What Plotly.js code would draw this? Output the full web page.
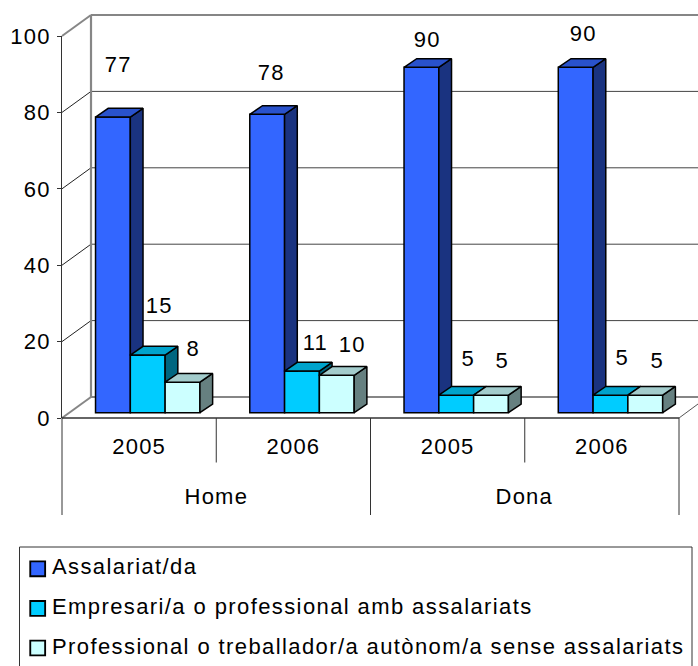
<!DOCTYPE html>
<html>
<head>
<meta charset="utf-8">
<script src="https://cdn.plot.ly/plotly-3.0.1.min.js"></script>
<style>
html,body{margin:0;padding:0;background:#fff;overflow:hidden}
#chart{width:698px;height:666px}
#chart svg text{letter-spacing:1.2px}
#chart .legendtext{transform:translateX(-6px);letter-spacing:1.4px}
#chart .legendpoints path{transform:translate(19.7px,3px) scale(1.24) !important}
#chart .legend .scrollbox{clip-path:none !important}
</style>
</head>
<body>
<div id="chart"></div>
<script>
// ---- data ----
var groups = ['Home','Home','Dona','Dona'];
var years = ['2005','2006','2005','2006'];
var seriesNames = ['Assalariat/da','Empresari/a o professional amb assalariats','Professional o treballador/a autònom/a sense assalariats'];
var assalariat = [77.4,78.1,90.4,90.4];
var empresari = [15.1,10.9,4.6,4.6];
var autonom = [8,9.8,4.6,4.6];
var yTicks = [0,20,40,60,80,100];

// ---- styling / layout ----
var frontColors = ['#3366FF','#00CCFF','#CCFFFF'];
var topColors = ['#2952CC','#00A3CC','#A3CCCC'];
var sideColors = ['#1A3380','#006680','#668080'];
var labelShiftX = [[5,11,10],[4,13.5,15],[6,12,11],[7.5,12,11.5]];
var labelShiftY = [[53.6,50,34],[42,28,30],[29,35,33],[35,36,33]];
var W=698,H=666,L=62,R=679,T=36,B=418;
var pw=R-L, ph=B-T, catW=pw/4, unitY=ph/100;
var wallDX=29, wallDY=21, barDX=12.7, barDY=8.7, offX=8.6, offY=5.3, barW=34.8;
var barGap=1-3*barW/catW;
var font='"Liberation Sans", Arial, sans-serif';
var series=[assalariat,empresari,autonom];

function dx(px){return px/catW;}
function dy(px){return px/unitY;}
var baseV=dy(offY);

var traces=[];
series.forEach(function(vals,s){
  traces.push({type:'bar',name:seriesNames[s],legendgroup:'g'+s,
    x:vals.map(function(_,c){return c+0.5+dx(offX);}),
    y:vals,base:vals.map(function(){return baseV;}),
    marker:{color:frontColors[s],line:{color:'#000',width:1.5}},
    hoverinfo:'y',cliponaxis:false});
});
function poly(name,color,xs,ys){
  return {type:'scatter',mode:'lines',x:xs,y:ys,fill:'toself',fillcolor:color,
    line:{color:'#000',width:1.5},showlegend:false,hoverinfo:'skip',cliponaxis:false,name:name};
}
series.forEach(function(vals,s){
  var sx=[],sy=[],tx=[],ty=[];
  vals.forEach(function(v,c){
    var left=c+0.5+dx(offX)+(s-1.5)*dx(barW), right=left+dx(barW);
    var top=v+baseV;
    var nextV=(s<2?series[s+1][c]:0)+baseV;
    tx.push(left,left+dx(barDX),right+dx(barDX),right,left,null);
    ty.push(top,top+dy(barDY),top+dy(barDY),top,top,null);
    var low=s<2?nextV:baseV;
    var low2=s<2?nextV:baseV+dy(barDY);
    sx.push(right,right+dx(barDX),right+dx(barDX),right,right,null);
    sy.push(top,top+dy(barDY),low2,low,top,null);
  });
  traces.push(poly('side'+s,sideColors[s],sx,sy));
  traces.push(poly('top'+s,topColors[s],tx,ty));
});

function px2x(p){return (p-L)/pw;}
function px2y(p){return (B-p)/ph;}
function line(x0,y0,x1,y1,color,width){
  return {type:'line',xref:'paper',yref:'paper',x0:px2x(x0),y0:px2y(y0),x1:px2x(x1),y1:px2y(y1),
    line:{color:color,width:width},layer:'below'};
}
var shapes=[];
var grey='#868686',dark='#333';
yTicks.forEach(function(v){
  var y=B-v*unitY;
  if(v===0||v===100){
    shapes.push(line(L,y,L+wallDX,y-wallDY,grey,2));
    shapes.push(line(L+wallDX,y-wallDY,W+10,y-wallDY,grey,2.2));
  } else {
    shapes.push(line(L,y,L+wallDX,y-wallDY,'#222',1));
    shapes.push(line(L+wallDX,y-wallDY,W+10,y-wallDY,'#444',1));
  }
});
shapes.push(line(L+wallDX,T-wallDY,L+wallDX,B-wallDY,grey,2.2));
shapes.push(line(R,B,W,B-14,'#555',1));
// category dividers
shapes.push(line(L,B,L,515,dark,1));
shapes.push(line(R,B,R,515,dark,1));
shapes.push(line(L+catW,B,L+catW,462.5,dark,1));
shapes.push(line(L+3*catW,B,L+3*catW,462.5,dark,1));
shapes.push(line(L+2*catW,B,L+2*catW,515,dark,1));
shapes.push(line(L,B,R,B,dark,1.6));
// legend frame
shapes.push(line(19.5,547,692,547,dark,1));
shapes.push(line(19.5,547,19.5,670,dark,1));
shapes.push(line(692,547,692,670,dark,1));

var annotations=[];
series.forEach(function(vals,s){
  vals.forEach(function(v,c){
    var r=Math.round(v);
    annotations.push({x:c+0.5+dx(offX)+(s-1)*dx(barW),y:r+baseV,xref:'x',yref:'y',text:String(r),showarrow:false,
      xanchor:'center',yanchor:'middle',xshift:labelShiftX[c][s],yshift:labelShiftY[c][s],
      font:{family:font,size:22,color:'#000'}});
  });
});
// group labels
['Home','Dona'].forEach(function(g){
  var idx=[];groups.forEach(function(n,i){if(n===g)idx.push(i);});
  var mid=(idx[0]+idx[idx.length-1]+1)/2;
  annotations.push({x:mid,xref:'x',y:px2y(497),yref:'paper',text:g,showarrow:false,xanchor:'center',yanchor:'middle',
    font:{family:font,size:22,color:'#000'}});
});

var layout={
  width:W,height:H,paper_bgcolor:'#fff',plot_bgcolor:'rgba(0,0,0,0)',
  margin:{l:L,r:W-R,t:T,b:H-B,pad:0,autoexpand:false},
  font:{family:font,size:22,color:'#000'},
  barmode:'group',bargap:barGap,bargroupgap:0,
  xaxis:{range:[0,4],tickvals:years.map(function(_,i){return i+0.5;}),ticktext:years,
    showgrid:false,zeroline:false,showline:false,ticks:'',ticklabelstandoff:13,fixedrange:true,
    tickfont:{family:font,size:22,color:'#000'}},
  yaxis:{range:[0,100],tickvals:yTicks,showgrid:false,zeroline:false,showline:true,linecolor:dark,linewidth:1,
    ticks:'outside',ticklen:4,tickcolor:dark,tickwidth:1,ticklabelstandoff:2,fixedrange:true,
    tickfont:{family:font,size:22,color:'#000'}},
  legend:{x:px2x(18),xanchor:'left',y:px2y(545),yanchor:'top',bgcolor:'rgba(0,0,0,0)',borderwidth:0,
    tracegroupgap:8,traceorder:'grouped',font:{family:font,size:22,color:'#000'},itemclick:false,itemdoubleclick:false},
  showlegend:true,
  shapes:shapes,annotations:annotations
};
Plotly.newPlot('chart',traces,layout,{displayModeBar:false});
</script>
</body>
</html>
